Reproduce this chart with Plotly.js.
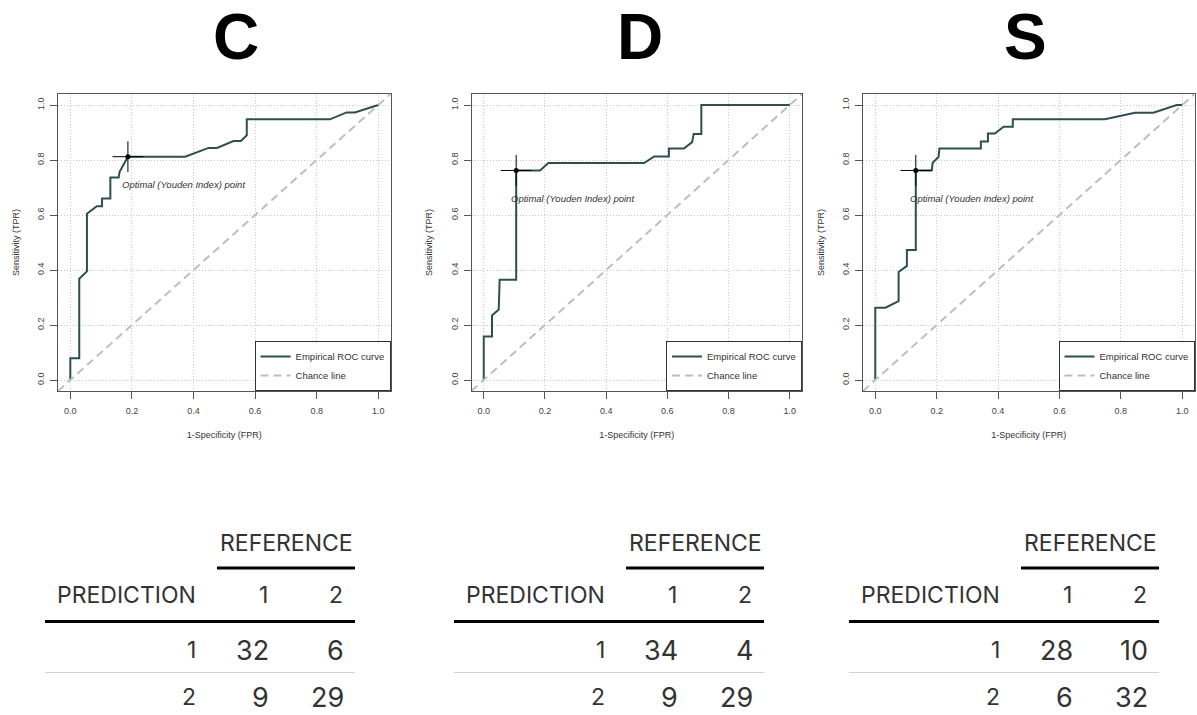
<!DOCTYPE html>
<html>
<head>
<meta charset="utf-8">
<script src="https://cdn.plot.ly/plotly-3.0.1.min.js"></script>
<style>
html,body{margin:0;padding:0;background:#fff;}
#chart{width:1197px;height:715px;}
</style>
</head>
<body>
<div id="chart"></div>
<script>
// ---------------- DATA ----------------
const panelNames = ['C', 'D', 'S'];

// Empirical ROC curves (1-Specificity, Sensitivity)
const cFpr = [0, 0, 0.029, 0.029, 0.054, 0.054, 0.086, 0.103, 0.103, 0.130, 0.130, 0.157, 0.160, 0.187, 0.373, 0.449, 0.476, 0.530, 0.554, 0.573, 0.573, 0.843, 0.897, 0.924, 1.0];
const cTpr = [0, 0.079, 0.079, 0.368, 0.395, 0.605, 0.632, 0.632, 0.660, 0.660, 0.736, 0.736, 0.757, 0.812, 0.812, 0.844, 0.844, 0.869, 0.869, 0.890, 0.948, 0.948, 0.973, 0.973, 1.0];

const dFpr = [0, 0, 0.027, 0.027, 0.049, 0.052, 0.106, 0.106, 0.184, 0.211, 0.524, 0.557, 0.605, 0.605, 0.654, 0.681, 0.686, 0.711, 0.711, 1.0];
const dTpr = [0, 0.158, 0.158, 0.235, 0.256, 0.365, 0.365, 0.762, 0.762, 0.789, 0.789, 0.813, 0.813, 0.842, 0.842, 0.865, 0.895, 0.895, 1.0, 1.0];

const sFpr = [0, 0, 0.033, 0.076, 0.076, 0.103, 0.103, 0.132, 0.132, 0.184, 0.187, 0.206, 0.209, 0.344, 0.344, 0.367, 0.367, 0.390, 0.418, 0.448, 0.448, 0.748, 0.846, 0.906, 0.982, 1.0];
const sTpr = [0, 0.263, 0.263, 0.287, 0.393, 0.415, 0.473, 0.473, 0.762, 0.762, 0.790, 0.811, 0.842, 0.842, 0.867, 0.867, 0.896, 0.896, 0.921, 0.921, 0.948, 0.948, 0.972, 0.972, 1.0, 1.0];

// Optimal (Youden index) points [FPR, TPR]
const cOptimal = [0.187, 0.812];
const dOptimal = [0.106, 0.762];
const sOptimal = [0.132, 0.762];

// Chance line y = x across the whole axis range
const chanceX = [-0.04, 1.04];
const chanceY = [-0.04, 1.04];

const tickVals = [0, 0.2, 0.4, 0.6, 0.8, 1.0];
const tickText = ['0.0', '0.2', '0.4', '0.6', '0.8', '1.0'];

// Confusion matrices (rows = prediction, columns = reference)
const refLevels = ['1', '2'];
const predLevels = ['1', '2'];
const cMatrix = [[32, 6], [9, 29]];
const dMatrix = [[34, 4], [9, 29]];
const sMatrix = [[28, 10], [6, 32]];

// ---------------- LAYOUT HELPERS ----------------
const W = 1197, H = 715;
const px = x => x / W;
const py = y => 1 - y / H;

const rocSets = [
  {fpr: cFpr, tpr: cTpr, opt: cOptimal, mat: cMatrix, dom: [58, 390.6], title: 236, lab: [0.16, 0.71], tOff: 0},
  {fpr: dFpr, tpr: dTpr, opt: dOptimal, mat: dMatrix, dom: [471.5, 802], title: 640, lab: [0.081, 0.659], tOff: 409},
  {fpr: sFpr, tpr: sTpr, opt: sOptimal, mat: sMatrix, dom: [863, 1194.5], title: 1025, lab: [0.108, 0.66], tOff: 804}
];
const yDom = [py(391), py(94)];

const roc = '#2F4F4F';
const traces = [];
const layout = {
  width: W, height: H,
  margin: {l: 0, r: 0, t: 0, b: 0},
  paper_bgcolor: '#fff', plot_bgcolor: '#fff',
  font: {family: 'Liberation Sans, Arial, sans-serif', color: '#333', size: 9},
  annotations: [], shapes: []
};

rocSets.forEach((s, i) => {
  const n = i === 0 ? '' : String(i + 1);
  const xa = 'x' + n, ya = 'y' + n;
  const lg = 'legend' + n;
  traces.push({
    x: s.fpr, y: s.tpr, xaxis: xa, yaxis: ya, type: 'scatter', mode: 'lines',
    name: 'Empirical ROC curve', legend: lg,
    line: {color: roc, width: 2}, hoverinfo: 'x+y'
  });
  traces.push({
    x: chanceX, y: chanceY, xaxis: xa, yaxis: ya, type: 'scatter', mode: 'lines',
    name: 'Chance line', legend: lg,
    line: {color: '#BEBEBE', width: 2, dash: '8px,5px'}, hoverinfo: 'skip'
  });
  traces.push({
    x: [s.opt[0]], y: [s.opt[1]], xaxis: xa, yaxis: ya, type: 'scatter', mode: 'markers',
    showlegend: false, cliponaxis: false,
    marker: {symbol: 'cross-thin-open', size: 22, color: '#000', line: {color: '#000', width: 1}}
  });
  traces.push({
    x: [s.opt[0]], y: [s.opt[1]], xaxis: xa, yaxis: ya, type: 'scatter', mode: 'markers',
    showlegend: false,
    marker: {symbol: 'circle', size: 5, color: '#000'}
  });

  const axCommon = {
    range: [-0.04, 1.04], tickvals: tickVals, ticktext: tickText,
    showgrid: true, gridcolor: '#c8c8c8', griddash: '1px,2px', gridwidth: 1,
    zeroline: false, showline: true, mirror: true, linecolor: '#555', linewidth: 1,
    ticks: 'outside', ticklen: 7, tickcolor: '#555',
    tickfont: {size: 9, color: '#444'}, fixedrange: true
  };
  layout['xaxis' + n] = Object.assign({}, axCommon, {
    domain: [px(s.dom[0]), px(s.dom[1])], anchor: ya,
    ticklabelstandoff: 4,
    title: {text: '1-Specificity (FPR)', font: {size: 9, color: '#333'}, standoff: 16}
  });
  layout['yaxis' + n] = Object.assign({}, axCommon, {
    domain: yDom, anchor: xa, tickangle: -90,
    ticklabelstandoff: 2,
    title: {text: 'Sensitivity (TPR)', font: {size: 9, color: '#333'}, standoff: 15}
  });
  layout[lg] = {
    x: px(s.dom[1]), xanchor: 'right', y: yDom[0], yanchor: 'bottom',
    xref: 'paper', yref: 'paper',
    bgcolor: '#fff', bordercolor: '#333', borderwidth: 1,
    font: {size: 9.5, color: '#333'}, tracegroupgap: 0, itemwidth: 30
  };

  // Panel letter
  layout.annotations.push({
    text: '<b>' + panelNames[i] + '</b>', xref: 'paper', yref: 'paper',
    x: px(s.title), y: py(37), xanchor: 'center', yanchor: 'middle', showarrow: false,
    font: {family: 'Liberation Sans Narrow, Liberation Sans, Arial, sans-serif', size: 64, color: '#000'}
  });
  // Optimal label
  layout.annotations.push({
    text: '<i>Optimal (Youden Index) point</i>', xref: xa, yref: ya,
    x: s.lab[0], y: s.lab[1], xanchor: 'left', yanchor: 'middle', showarrow: false,
    font: {size: 9.5, color: '#333'}
  });

  // Confusion-matrix table
  const o = s.tOff;
  const tf = {family: 'Inter, Roboto, sans-serif', size: 23, color: '#333'};
  const nf = {family: 'Inter, Roboto, sans-serif', size: 27, color: '#333'};
  const colX = [270, 345];
  const rowY = [650, 697];
  const ann = (t, x, y, f) => layout.annotations.push({
    text: t, xref: 'paper', yref: 'paper', x: px(x + o), y: py(y),
    xanchor: 'right', yanchor: 'middle', showarrow: false, font: f
  });
  ann('REFERENCE', 355, 543, tf);
  ann('PREDICTION', 198, 595, tf);
  refLevels.forEach((r, j) => ann(r, colX[j], 595, tf));
  predLevels.forEach((p, k) => {
    ann(p, 198, rowY[k], tf);
    s.mat[k].forEach((v, j) => ann(String(v), colX[j] + 1, rowY[k], nf));
  });
  const hl = (x0, x1, y, w, c) => layout.shapes.push({
    type: 'line', xref: 'paper', yref: 'paper',
    x0: px(x0 + o), x1: px(x1 + o), y0: py(y), y1: py(y),
    line: {color: c, width: w}
  });
  hl(217, 355, 568, 3, '#000');
  hl(45, 355, 621.5, 3, '#000');
  hl(45, 355, 672.5, 1, '#d3d3d3');
});

Plotly.newPlot('chart', traces, layout, {displayModeBar: false, responsive: false, staticPlot: true});
</script>
</body>
</html>
